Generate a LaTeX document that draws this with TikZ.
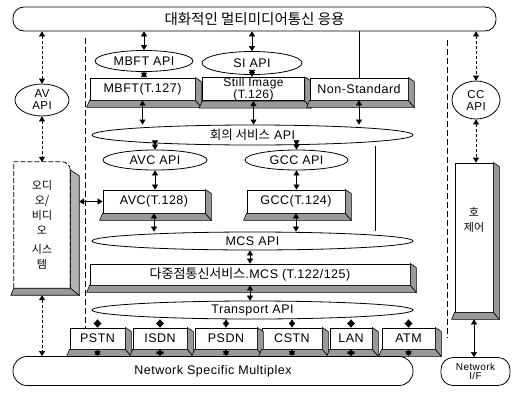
\documentclass[tikz,border=0pt]{standalone}
\usepackage{fontspec}
\setmainfont[LetterSpace=4]{Liberation Sans}
\newfontfamily\kr{Noto Sans CJK KR}
\usetikzlibrary{arrows.meta,shapes.geometric}
\newcommand{\boxfaces}[1]{%
  \draw[sideface] (#1.south west) -- (#1.south east) -- ([xshift=6pt,yshift=-7pt]#1.south east) -- ([xshift=-3pt,yshift=-7pt]#1.south west) -- cycle;
  \draw[sideface] (#1.north east) -- ([xshift=6pt,yshift=-4pt]#1.north east) -- ([xshift=6pt,yshift=-7pt]#1.south east) -- (#1.south east) -- cycle;
}
\begin{document}
\begin{tikzpicture}[x=1pt,y=-1pt,
  >={Triangle[width=6pt,length=5pt]},
  api/.style={ellipse,draw,line width=0.8pt,inner sep=0pt,font=\fontsize{12.5}{13}\selectfont},
  box/.style={rectangle,draw,line width=0.8pt,fill=white,inner sep=0pt,font=\fontsize{12.5}{13}\selectfont},
  rbox/.style={rectangle,draw,line width=0.8pt,inner sep=0pt},
  sideface/.style={draw,line width=0.6pt,fill=black!40},
  conn/.style={<->,line width=0.5pt},
  dconn/.style={<->,line width=0.5pt,dash pattern=on 3pt off 2pt},
  bigconn/.style={<->,line width=0.6pt,>={Triangle[width=8pt,length=4.5pt]}},
  divider/.style={line width=0.9pt,dash pattern=on 6pt off 3pt},
  plain/.style={line width=0.5pt}
]
\useasboundingbox (0,0) rectangle (526,407);

% top application
\node[rbox,rounded corners=11pt,minimum width=483pt,minimum height=24pt] (app) at (254.5,19)
  {\kr\fontsize{14.5}{15}\selectfont 대화적인 멀티미디어통신 응용};

% dividers
\draw[divider] (85,38) -- (85,340);
\draw[divider] (447,40) -- (447,338);

% left column
\node[api,minimum width=54pt,minimum height=32pt,align=center,font=\fontsize{11.5}{12}\selectfont] (avapi) at (42,100) {AV\\API};
\node[minimum width=56pt,minimum height=126pt,inner sep=0pt,align=center,
  font=\kr\fontsize{11}{15}\selectfont] (avs) at (42,225)
  {오디\\오/\\비디\\오\\[4pt]시스\\템};
\draw[sideface,fill=black!30] ([yshift=-8pt]avs.north east) -- ([xshift=9pt,yshift=-14pt]avs.north east) -- ([xshift=9pt,yshift=-7pt]avs.south east) -- (avs.south east) -- cycle;
\draw[sideface] (avs.south west) -- (avs.south east) -- ([xshift=9pt,yshift=-7pt]avs.south east) -- ([xshift=-3pt,yshift=-7pt]avs.south west) -- cycle;
\draw[line width=0.8pt,dash pattern=on 5pt off 2pt] (avs.south west) -- (avs.north west) -- ([xshift=-8pt]avs.north east) to[out=0,in=90] ([yshift=-8pt]avs.north east) -- (avs.south east);

% right column
\node[api,minimum width=48pt,minimum height=38pt,align=center,font=\fontsize{11.5}{12}\selectfont] (ccapi) at (476,100) {CC\\API};
\node[box,minimum width=38pt,minimum height=149pt,align=center,font=\kr\fontsize{11}{15}\selectfont] (cc) at (474,237.5) {호\\제어\\[20pt]};
\boxfaces{cc}
\node[rbox,rounded corners=12pt,minimum width=69pt,minimum height=28pt,align=center,font=\fontsize{10}{9}\selectfont] (nif) at (475.5,371.5) {Network\\I/F};

% middle column
\node[api,minimum width=98pt,minimum height=21pt] (mbftapi) at (144,61) {MBFT API};
\node[api,minimum width=100pt,minimum height=23pt] (siapi) at (252,63) {SI API};
\node[box,minimum width=105pt,minimum height=22pt] (mbft) at (142.5,89) {MBFT(T.127)};
\boxfaces{mbft}
\node[box,minimum width=102pt,minimum height=22pt,align=center,font=\fontsize{12}{10}\selectfont] (si) at (253.5,89) {Still Image\\(T.126)};
\boxfaces{si}
\node[box,minimum width=98pt,minimum height=22pt] (ns) at (359,89) {Non-Standard};
\boxfaces{ns}

\node[api,minimum width=321pt,minimum height=20pt] (conf) at (252.5,135) {{\kr 회의 서비스} API};
\node[api,minimum width=104pt,minimum height=20pt] (avcapi) at (155,160) {AVC API};
\node[api,minimum width=103pt,minimum height=20pt] (gccapi) at (296.5,160) {GCC API};
\node[box,minimum width=102pt,minimum height=23pt] (avc) at (154,201.5) {AVC(T.128)};
\boxfaces{avc}
\node[box,minimum width=98pt,minimum height=23pt] (gcc) at (296,201.5) {GCC(T.124)};
\boxfaces{gcc}
\node[api,minimum width=321pt,minimum height=18pt] (mcsapi) at (252.5,241) {MCS API};
\node[box,minimum width=320pt,minimum height=21pt] (mcs) at (250,274.5) {{\kr\fontsize{13}{13}\selectfont 다중점통신서비스}.MCS (T.122/125)};
\boxfaces{mcs}
\node[api,minimum width=321pt,minimum height=18pt] (tapi) at (252.5,310) {Transport API};

% networks
\node[box,minimum width=55pt,minimum height=21pt] (pstn) at (97.5,338.5) {PSTN};
\node[box,minimum width=54pt,minimum height=21pt] (isdn) at (160,338.5) {ISDN};
\node[box,minimum width=62pt,minimum height=21pt] (psdn) at (226,338.5) {PSDN};
\node[box,minimum width=60pt,minimum height=21pt] (cstn) at (292,338.5) {CSTN};
\node[box,minimum width=42pt,minimum height=21pt] (lan) at (351,338.5) {LAN};
\node[box,minimum width=53pt,minimum height=21pt] (atm) at (408.5,338.5) {ATM};
\foreach \n in {pstn,isdn,psdn,cstn,lan,atm} {\boxfaces{\n}}

\node[rbox,rounded corners=14pt,minimum width=400pt,minimum height=29pt,font=\fontsize{12.5}{13}\selectfont] (nsm) at (213,371) {Network Specific Multiplex};

% connectors: top application
\draw[dconn] (avapi.north |- app.south) -- (avapi.north);
\draw[conn] (mbftapi.north |- app.south) -- (mbftapi.north);
\draw[conn] (siapi.north |- app.south) -- (siapi.north);
\draw[plain] (ns.north |- app.south) -- (ns.north);
\draw[dconn] (ccapi.north |- app.south) -- (ccapi.north);

% left and right columns
\draw[dconn] (avapi.south) -- (avapi.south |- avs.north);
\draw[dconn] ([yshift=-7pt]avs.south) -- (avs.south |- nsm.north);
\draw[dconn] (ccapi.south) -- (ccapi.south |- cc.north);
\draw[conn] ([yshift=-7pt]cc.south) -- (cc.south |- nif.north);
\draw[conn] ([xshift=9pt]avs.east |- avc.west) -- (avc.west);

% middle column
\draw[conn] (mbftapi.south) -- (mbftapi.south |- mbft.north);
\draw[conn] (siapi.south) -- (siapi.south |- si.north);
\draw[conn] (mbft.south) -- (mbft.south |- conf.north);
\draw[conn] (si.south) -- (si.south |- conf.north);
\draw[conn] (ns.south) -- (ns.south |- conf.north);
\draw[conn] (conf.south -| avcapi.north) -- (avcapi.north);
\draw[conn] (conf.south -| gccapi.north) -- (gccapi.north);
\draw[plain] ([yshift=-1pt]conf.south -| 375,0) -- ([yshift=1pt]mcsapi.north -| 375,0);
\draw[conn] (avcapi.south) -- (avcapi.south |- avc.north);
\draw[conn] (gccapi.south) -- (gccapi.south |- gcc.north);
\draw[conn] (avc.south) -- (avc.south |- mcsapi.north);
\draw[conn] (gcc.south) -- (gcc.south |- mcsapi.north);
\draw[conn] (mcsapi.south -| mcs.north) -- (mcs.north);
\draw[conn] (mcs.south) -- (mcs.south |- tapi.north);

% transport to networks to multiplex
\foreach \n in {pstn,isdn,lan,atm} {
  \draw[bigconn] (\n.north |- tapi.south) -- (\n.north);
}
\foreach \n in {psdn,cstn} {
  \draw[conn] (\n.north |- tapi.south) -- (\n.north);
}
\foreach \n in {pstn,psdn,cstn,atm} {
  \draw[conn] (\n.south) -- (\n.south |- nsm.north);
}
\foreach \n in {isdn,lan} {
  \draw[bigconn] (\n.south) -- (\n.south |- nsm.north);
}
\end{tikzpicture}
\end{document}
